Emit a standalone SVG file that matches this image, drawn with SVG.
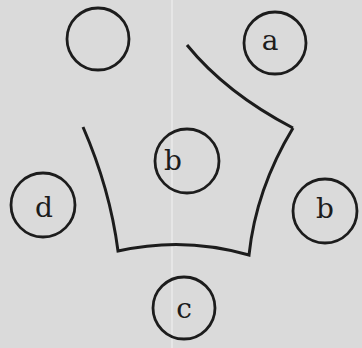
<svg xmlns="http://www.w3.org/2000/svg" width="362" height="348" viewBox="0 0 362 348">
<style>
.c{fill:none;stroke:#1c1c1c;stroke-width:2.8}
.l{font-family:"DejaVu Serif","Liberation Serif",serif;font-size:28px;fill:#1c1c1c;text-anchor:middle}
.e{fill:none;stroke:#1c1c1c;stroke-width:3;stroke-linejoin:miter}
</style>
<rect width="362" height="348" fill="#dadada"/>
<rect x="171" y="0" width="2" height="348" fill="#e6e6e6"/>
<g id="frame">
<path class="e" d="M83,127 Q110,189 118,251 Q184,236 249,255 Q256,189 293,128"/>
<path class="e" d="M293,128 Q226,93 187,45"/>
</g>
<g id="n-empty"><circle class="c" cx="98" cy="39" r="31"/></g>
<g id="n-a"><circle class="c" cx="275" cy="43" r="31"/><text class="l" x="270" y="50">a</text></g>
<g id="n-b-center"><circle class="c" cx="187" cy="161" r="32"/><text class="l" x="173" y="170">b</text></g>
<g id="n-d"><circle class="c" cx="43" cy="205" r="32"/><text class="l" x="44" y="217">d</text></g>
<g id="n-b-right"><circle class="c" cx="325" cy="211" r="32"/><text class="l" x="325" y="218">b</text></g>
<g id="n-c"><circle class="c" cx="184" cy="308" r="31"/><text class="l" x="184" y="318">c</text></g>
</svg>
